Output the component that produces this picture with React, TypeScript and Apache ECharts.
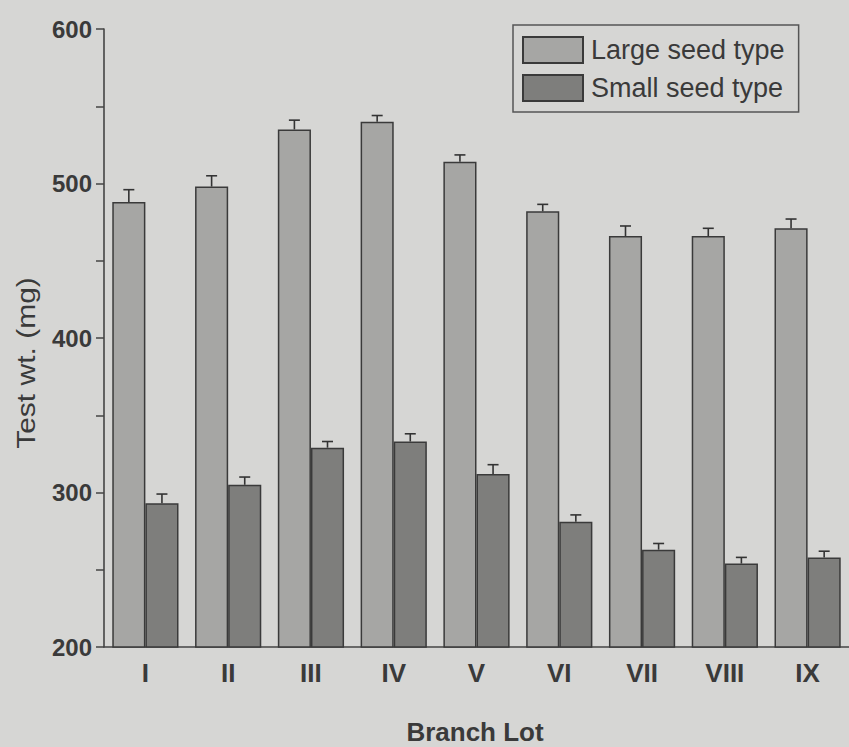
import React, { useEffect, useRef } from 'react';
import * as echarts from 'echarts';

const categories = ['I', 'II', 'III', 'IV', 'V', 'VI', 'VII', 'VIII', 'IX'];
const largeSeed = [488, 498, 535, 540, 514, 482, 466, 466, 471];
const largeErr = [8, 7, 6, 4, 4.5, 4.5, 6.5, 5, 6];
const smallSeed = [293, 305, 329, 333, 312, 281, 263, 254, 258];
const smallErr = [6, 5, 4, 5, 6, 4.5, 4, 4, 4];
const yMin = 200;
const yMax = 600;
const yInterval = 100;
const seriesNames = ['Large seed type', 'Small seed type'];
const xTitle = 'Branch Lot';
const yTitle = 'Test wt. (mg)';

const FONT = "'Liberation Sans', Arial, sans-serif";
const INK = '#3a3a3a';

function errorBar(offsetFrac: number) {
  return (params: any, api: any) => {
    const idx = api.value(0);
    const v = api.value(1);
    const e = api.value(2);
    const band = api.size([1, 0])[0];
    const base = api.coord([idx, v]);
    const top = api.coord([idx, v + e]);
    const x = base[0] + offsetFrac * band;
    const cap = 5.5;
    const style = { stroke: '#333', lineWidth: 1.6 };
    return {
      type: 'group',
      children: [
        { type: 'line', shape: { x1: x, y1: base[1], x2: x, y2: top[1] }, style },
        { type: 'line', shape: { x1: x - cap, y1: top[1], x2: x + cap, y2: top[1] }, style },
      ],
    };
  };
}

export default function App() {
  const ref = useRef<HTMLDivElement>(null);
  useEffect(() => {
    if (!ref.current) return;
    const chart = echarts.init(ref.current, undefined, { renderer: 'svg' });
    const option: any = {
      animation: false,
      backgroundColor: '#d6d6d4',
      grid: { left: 104, right: -5, top: 29, bottom: 100, containLabel: false },
      legend: {
        data: seriesNames,
        icon: 'rect',
        orient: 'vertical',
        left: 513,
        top: 25,
        itemWidth: 60,
        itemHeight: 26,
        itemGap: 10,
        padding: [11, 14, 10, 9],
        borderColor: '#555',
        borderWidth: 1.5,
        textStyle: { fontSize: 27, color: INK, fontFamily: FONT, padding: [0, 0, 0, 3] },
      },
      xAxis: [
        {
          type: 'category',
          data: categories,
          axisLine: { lineStyle: { color: '#444', width: 1.6 } },
          axisTick: { alignWithLabel: true, length: 12, lineStyle: { color: '#444', width: 1.5 } },
          axisLabel: { fontSize: 26, color: INK, fontFamily: FONT, fontWeight: 'bold', margin: 13 },
        },
        {
          type: 'category',
          data: categories,
          position: 'bottom',
          axisLine: { show: false },
          axisTick: { length: 6, lineStyle: { color: '#444', width: 1.5 } },
          axisLabel: { show: false },
        },
      ],
      yAxis: {
        type: 'value',
        min: yMin,
        max: yMax,
        interval: yInterval,
        splitLine: { show: false },
        axisLine: { show: true, lineStyle: { color: '#444', width: 1.6 } },
        axisTick: { show: true, length: 8, lineStyle: { color: '#444', width: 1.5 } },
        minorTick: { show: true, splitNumber: 2, length: 8, lineStyle: { color: '#444', width: 1.5 } },
        axisLabel: { fontSize: 24, color: INK, fontFamily: FONT, fontWeight: 'bold', margin: 12 },
      },
      graphic: [
        {
          type: 'text',
          x: 26,
          y: 363,
          rotation: Math.PI / 2,
          scaleX: 1.2,
          style: {
            text: yTitle,
            fontSize: 25,
            fontFamily: FONT,
            fill: INK,
            align: 'center',
            verticalAlign: 'middle',
          },
        },
        {
          type: 'text',
          x: 475,
          y: 732,
          style: {
            text: xTitle,
            fontSize: 26,
            fontFamily: FONT,
            fontWeight: 'bold',
            fill: INK,
            align: 'center',
            verticalAlign: 'middle',
          },
        },
      ],
      series: [
        {
          name: seriesNames[0],
          type: 'bar',
          data: largeSeed,
          barWidth: '40%',
          barGap: '0%',
          itemStyle: { color: '#a6a6a4', borderColor: '#3a3a3a', borderWidth: 1.5 },
        },
        {
          name: seriesNames[1],
          type: 'bar',
          data: smallSeed,
          barWidth: '40%',
          barGap: '0%',
          itemStyle: { color: '#7e7e7c', borderColor: '#3a3a3a', borderWidth: 1.5 },
        },
        {
          name: 'Large seed error',
          type: 'custom',
          renderItem: errorBar(-0.2),
          encode: { x: 0, y: 1 },
          data: largeSeed.map((v, i) => [i, v, largeErr[i]]),
          z: 5,
        },
        {
          name: 'Small seed error',
          type: 'custom',
          renderItem: errorBar(0.2),
          encode: { x: 0, y: 1 },
          data: smallSeed.map((v, i) => [i, v, smallErr[i]]),
          z: 5,
        },
      ],
    };
    chart.setOption(option);
    return () => chart.dispose();
  }, []);
  return (
    <div
      ref={ref}
      style={{ position: 'fixed', left: 0, top: 0, width: 849, height: 747 }}
    />
  );
}
